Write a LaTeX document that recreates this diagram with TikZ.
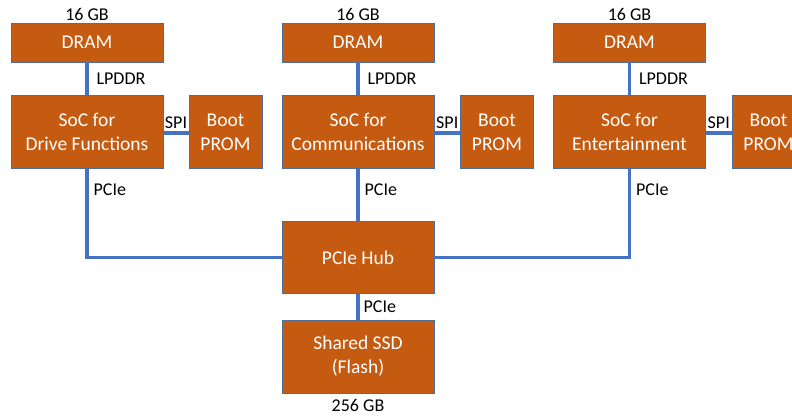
\documentclass[tikz,border=0pt]{standalone}
\usepackage{fontspec}
\setmainfont{Carlito}
\usetikzlibrary{positioning}
\definecolor{boxfill}{HTML}{C55A11}
\definecolor{boxline}{HTML}{4F6E9A}
\definecolor{busblue}{HTML}{4472C4}
\tikzset{
  unit/.style={draw=boxline, line width=0.9pt, fill=boxfill, text=white,
    minimum width=152pt, align=center, inner sep=0pt,
    font=\fontsize{19.5}{24}\selectfont},
  memunit/.style={unit, minimum height=39pt},
  chipunit/.style={unit, minimum height=73pt},
  romunit/.style={unit, minimum width=73pt, minimum height=73pt},
  bus/.style={draw=busblue, line width=3.2pt},
  tag/.style={font=\fontsize{18}{20}\selectfont, inner sep=1pt}
}
\begin{document}
\begin{tikzpicture}[x=1pt,y=-1pt]
    \useasboundingbox (0,0) rectangle (792,420);
    % three compute columns
    \foreach \n/\cx/\bx/\txt in {A/87/225.5/{SoC for\\Drive Functions},
                                 B/358/497/{SoC for\\Communications},
                                 C/629.5/768.5/{SoC for\\Entertainment}}
    {
      \node[memunit]  (dram\n) at (\cx,42.5) {DRAM};
      \node[chipunit] (soc\n)  at (\cx,132)  {\txt};
      \node[romunit]  (boot\n) at (\bx,132)  {Boot\\PROM};
      \node[tag, above=1pt of dram\n] (size\n) {16 GB};
      \draw[bus] (dram\n) -- (soc\n) node[tag, midway, right=7pt] {LPDDR};
      \draw[bus] (soc\n.east|-0,133) -- (boot\n.west|-0,133)
        node[tag, pos=0.5, above=2pt] {SPI};
    };
    % shared storage
    \node[chipunit, minimum height=72pt] (hub) at (358,257.5) {PCIe Hub};
    \node[chipunit] (ssd) at (358,356.5) {Shared SSD\\(Flash)};
    \node[tag, below=5pt of ssd] (ssdsize) {256 GB};
    \draw[bus] (socA.south) |- (hub.west)
      node[tag, pos=0, anchor=north west, xshift=4pt, yshift=-12pt] {PCIe};
    \draw[bus] (socB) -- (hub)
      node[tag, pos=0, anchor=north west, xshift=4pt, yshift=-12pt] {PCIe};
    \draw[bus] (socC.south) |- (hub.east)
      node[tag, pos=0, anchor=north west, xshift=4pt, yshift=-12pt] {PCIe};
    \draw[bus] (hub) -- (ssd) node[tag, midway, right=3pt] {PCIe};
\end{tikzpicture}
\end{document}
